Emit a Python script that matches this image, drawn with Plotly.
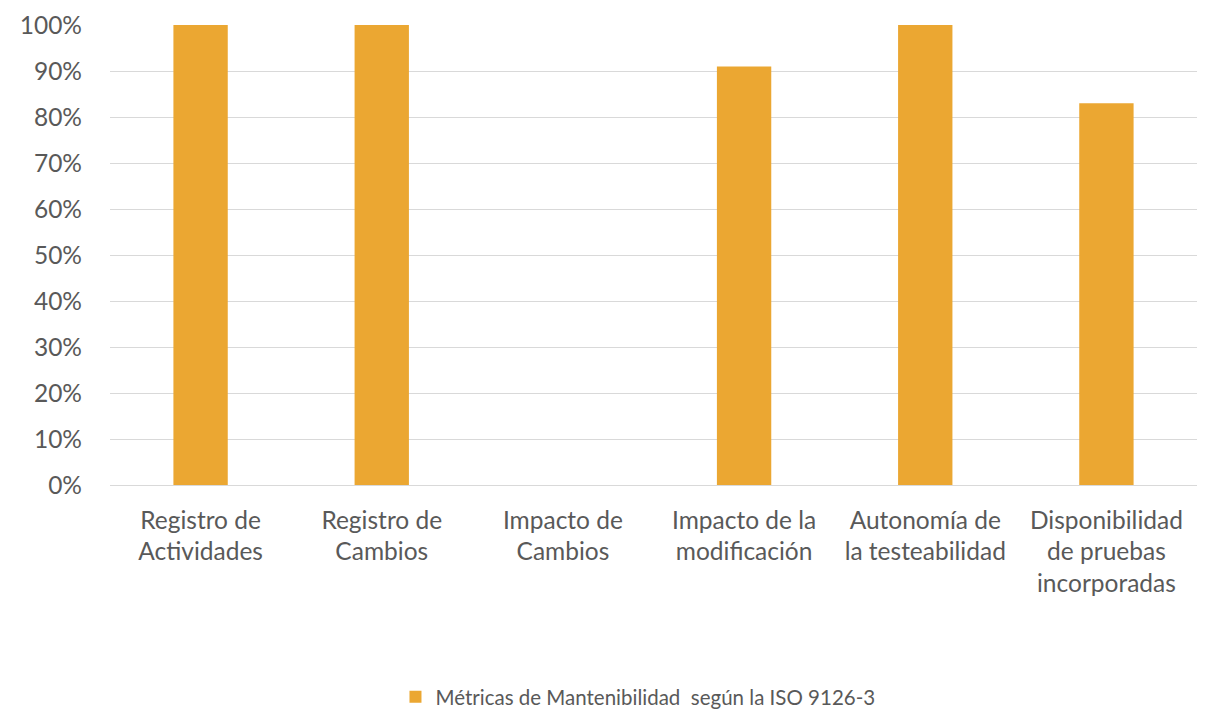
import plotly.graph_objects as go

categories = ["Registro de<br>Actividades", "Registro de<br>Cambios", "Impacto de<br>Cambios",
              "Impacto de la<br>modificación", "Autonomía de<br>la testeabilidad",
              "Disponibilidad<br>de pruebas<br>incorporadas"]
values = [1.00, 1.00, 0.0, 0.91, 1.00, 0.83]
series_name = "Métricas de Mantenibilidad  según la ISO 9126-3"
y_ticks = [0, 0.1, 0.2, 0.3, 0.4, 0.5, 0.6, 0.7, 0.8, 0.9, 1.0]

FONT = "Lato, Open Sans, sans-serif"
TXT = "#595959"

fig = go.Figure(go.Bar(x=categories, y=values, name=series_name,
                       marker=dict(color="#EBA732", line=dict(width=0)),
                       showlegend=True))

fig.update_layout(
    width=1206, height=709,
    margin=dict(l=110, r=9, t=25, b=224, autoexpand=False),
    plot_bgcolor="white", paper_bgcolor="white",
    bargap=0.70,
    font=dict(family=FONT, color=TXT),
    legend=dict(orientation="h", x=0.529, xref="container", xanchor="center",
                y=0.017, yref="container", yanchor="middle",
                font=dict(size=20.5, color=TXT, family=FONT), itemwidth=30),
)
fig.update_yaxes(range=[0, 1.0], tickvals=y_ticks, tickformat=".0%",
                 showgrid=True, gridcolor="#D9D9D9", gridwidth=1.3,
                 zeroline=False, showline=False, ticks="",
                 tickfont=dict(size=24.5, color=TXT, family=FONT),
                 ticklabelstandoff=27, automargin=False)
fig.update_xaxes(showgrid=False, showline=True, linecolor="#D9D9D9", linewidth=1.3,
                 ticks="", tickfont=dict(size=24.5, color=TXT, family=FONT),
                 ticklabelstandoff=13, tickangle=0, automargin=False)

fig.write_html("out.html")
